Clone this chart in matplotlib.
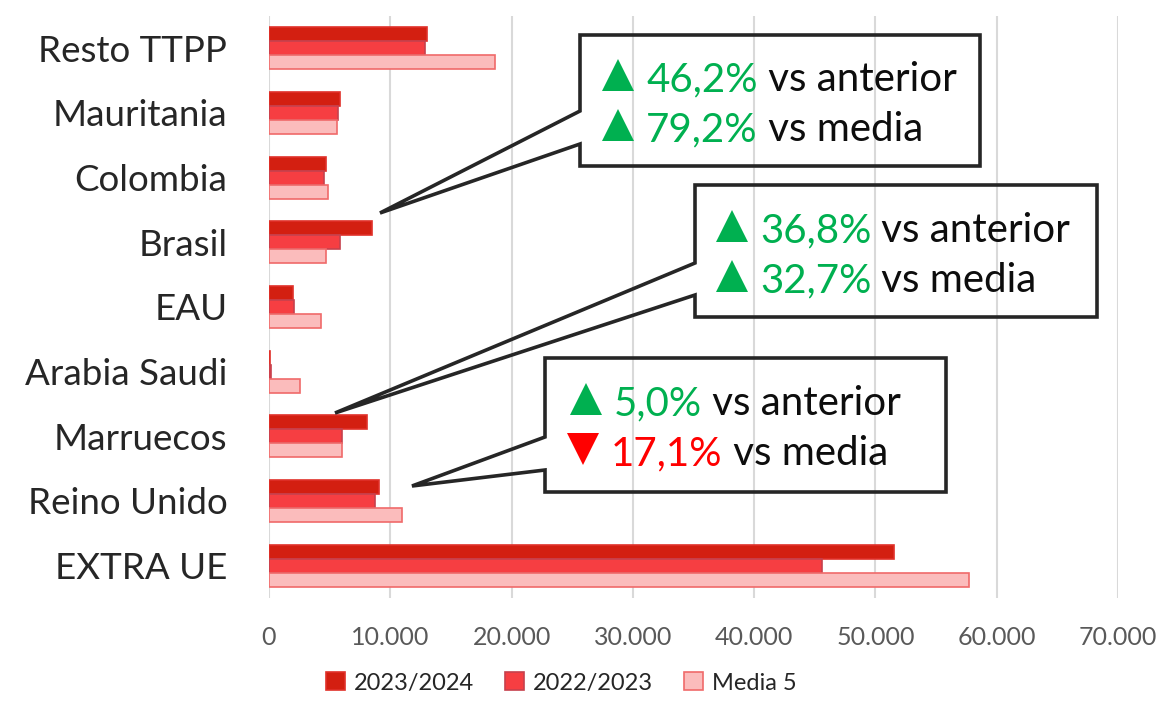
import matplotlib
matplotlib.use("Agg")
import matplotlib.pyplot as plt
import numpy as np
from matplotlib.patches import Polygon
from matplotlib.ticker import FuncFormatter

categories = ["Resto TTPP", "Mauritania", "Colombia", "Brasil", "EAU",
              "Arabia Saudi", "Marruecos", "Reino Unido", "EXTRA UE"]
s_2324 = [13000, 5840, 4690, 8510, 1940, 120, 8120, 9030, 51570]
s_2223 = [12850, 5730, 4550, 5870, 2050, 200, 6010, 8700, 45630]
s_media = [18650, 5570, 4900, 4740, 4250, 2540, 6060, 10960, 57700]
series_names = ["2023/2024", "2022/2023", "Media 5"]

# callout texts: (pct, arrow, rest)
callouts = [
    [("46,2%", "up", " vs anterior"), ("79,2%", "up", " vs media")],
    [("36,8%", "up", " vs anterior"), ("32,7%", "up", " vs media")],
    [("5,0%", "up", " vs anterior"), ("17,1%", "down", " vs media")],
]

plt.rcParams['font.family'] = ['Lato', 'DejaVu Sans']

W, H = 1162, 708
fig = plt.figure(figsize=(W / 100, H / 100), dpi=100)
ax = fig.add_axes([269 / W, 1 - 598 / H, (1118 - 269) / W, (598 - 16) / H])

y = np.arange(len(categories))
h = 0.215
ax.barh(y - h, s_2324, height=h, color="#D31F11", edgecolor="#E0312A", linewidth=1.2,
        label=series_names[0], zorder=3)
ax.barh(y, s_2223, height=h, color="#F63E42", edgecolor="#C6414D", linewidth=1.2,
        label=series_names[1], zorder=3)
ax.barh(y + h, s_media, height=h, color="#FBBCBC", edgecolor="#F06A6A", linewidth=1.2,
        label=series_names[2], zorder=3)

ax.set_ylim(len(categories) - 0.5, -0.5)
ax.set_xlim(0, 70000)
ax.set_yticks(y)
ax.set_yticklabels(categories, fontsize=26.5, color="#262626")
ax.set_xticks(np.arange(0, 70001, 10000))
ax.xaxis.set_major_formatter(FuncFormatter(lambda v, p: f"{int(v):,}".replace(",", ".")))
ax.tick_params(axis='x', labelsize=18, labelcolor="#595959", length=0, pad=20)
ax.tick_params(axis='y', length=0, pad=30)
ax.grid(axis='x', color="#D9D9D9", linewidth=1.5, zorder=0)
for s in ax.spines.values():
    s.set_visible(False)

leg = fig.legend(loc="center", bbox_to_anchor=(0.483, 1 - 683 / H), ncol=3, frameon=False,
                 fontsize=17, handlelength=0.8, handleheight=0.8, handletextpad=0.4,
                 columnspacing=1.3, labelcolor="#262626")


def px(xp, yp):
    return (xp / W, 1 - yp / H)


# callout boxes in pixel coords
boxes = [
    dict(x0=580, y0=35, x1=980, y1=166, wa=111, wb=144, tip=(380, 213),
         lines=[(602, 91), (602, 141)]),
    dict(x0=695, y0=185, x1=1097, y1=317, wa=263, wb=295, tip=(335, 413),
         lines=[(716, 242), (716, 292)]),
    dict(x0=545, y0=358, x1=946, y1=492, wa=437, wb=470, tip=(412, 486),
         lines=[(570, 415), (567, 465)]),
]

renderer = fig.canvas.get_renderer()
for b, texts in zip(boxes, callouts):
    pts = [(b["x0"], b["y0"]), (b["x1"], b["y0"]), (b["x1"], b["y1"]), (b["x0"], b["y1"]),
           (b["x0"], b["wb"]), b["tip"], (b["x0"], b["wa"])]
    poly = Polygon([px(*p) for p in pts], closed=True, fill=False, edgecolor="#262626",
                   linewidth=2.6, transform=fig.transFigure, joinstyle="miter")
    fig.patches.append(poly)
    for (lx, ly), (pct, arrow, rest) in zip(b["lines"], texts):
        col = "#00B050" if arrow == "up" else "#FF0000"
        tw, th = 32, 32
        if arrow == "up":
            tri = [(lx, ly), (lx + tw, ly), (lx + tw / 2, ly - th)]
        else:
            tri = [(lx, ly - th), (lx + tw, ly - th), (lx + tw / 2, ly)]
        fig.patches.append(Polygon([px(*p) for p in tri], closed=True, facecolor=col,
                                   edgecolor="none", transform=fig.transFigure))
        t1 = fig.text(*px(lx + tw + 12, ly), pct, color=col, fontsize=29,
                      ha="left", va="baseline")
        bb = t1.get_window_extent(renderer)
        fig.text(bb.x1 / W, 1 - ly / H, rest, color="#0D0D0D", fontsize=29,
                 ha="left", va="baseline")

fig.savefig("out.png", dpi=100)
